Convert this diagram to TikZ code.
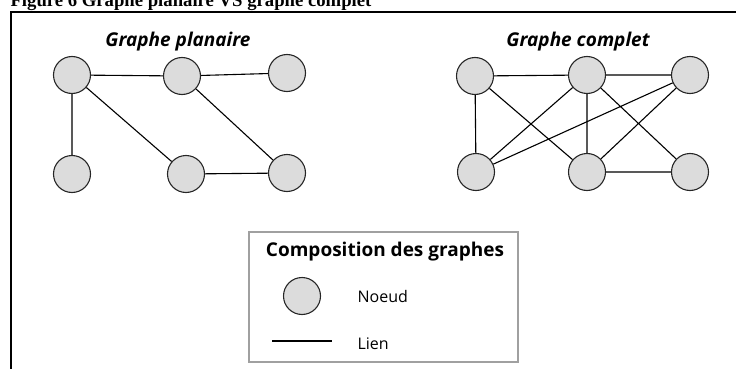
\documentclass[tikz,border=0pt]{standalone}
\usepackage{fontspec}
\setmainfont{Liberation Serif}
\newfontfamily\legendfont{Open Sans}
\definecolor{nodegray}{HTML}{DCDCDC}
\definecolor{boxgray}{HTML}{A0A0A0}

\begin{document}
\begin{tikzpicture}[x=1pt, y=-1pt, line width=1.1pt,
    vertex/.style={draw=black!85, fill=nodegray, circle, minimum size=37pt, inner sep=0pt}]
    \useasboundingbox (0,0) rectangle (736,369);

    % caption and frame
    \node[anchor=base west, inner sep=0pt, font=\fontsize{18.7}{20}\selectfont\bfseries] (caption) at (10,7) {Figure 6 Graphe planaire VS graphe complet};
    \draw[line width=1.5pt] (736,12) -- (11,12) -- (11,369);

    % planar graph
    \node[inner sep=0pt, anchor=base, font=\legendfont\fontsize{19}{22}\selectfont\bfseries\itshape] (tplan) at (178,47) {Graphe planaire};
    \node[vertex] (p1) at (72,75) {};
    \node[vertex] (p2) at (182,76) {};
    \node[vertex] (p3) at (287,73) {};
    \node[vertex] (p4) at (72,174) {};
    \node[vertex] (p5) at (186,174) {};
    \node[vertex] (p6) at (287,173) {};

    \draw (p3) -- (p2) -- (p1) -- (p4);
    \draw (p1) -- (p5) -- (p6) -- (p2);

    % complete graph
    \node[inner sep=0pt, anchor=base, font=\legendfont\fontsize{19}{22}\selectfont\bfseries\itshape] (tcomp) at (578,47) {Graphe complet};
    \node[vertex] (c1) at (475,76) {};
    \node[vertex] (c2) at (587,75) {};
    \node[vertex] (c3) at (690,75) {};
    \node[vertex] (c4) at (476,172) {};
    \node[vertex] (c5) at (587,172) {};
    \node[vertex] (c6) at (690,172) {};

    \draw (c3) -- (c2) -- (c1) -- (c4) -- (c2) -- (c5) -- (c1);
    \draw (c2) -- (c6) -- (c5) -- (c3) -- (c4);

    % legend
    \draw[boxgray, line width=1.5pt] (249,232) rectangle (518,362);
    \node[inner sep=0pt, anchor=base, font=\legendfont\fontsize{19}{22}\selectfont\bfseries] (ltitle) at (385,256) {Composition des graphes};
    \node[vertex] (lnode) at (302,296) {};
    \node[inner sep=0pt, anchor=base west, font=\legendfont\fontsize{16}{20}\selectfont] (lnoeud) at (357,302) {Noeud};
    \coordinate (la) at (272,341);
    \coordinate (lb) at (332,341);
    \draw (la) -- (lb);
    \node[inner sep=0pt, anchor=base west, font=\legendfont\fontsize{16}{20}\selectfont] (llien) at (357,349) {Lien};
\end{tikzpicture}
\end{document}
